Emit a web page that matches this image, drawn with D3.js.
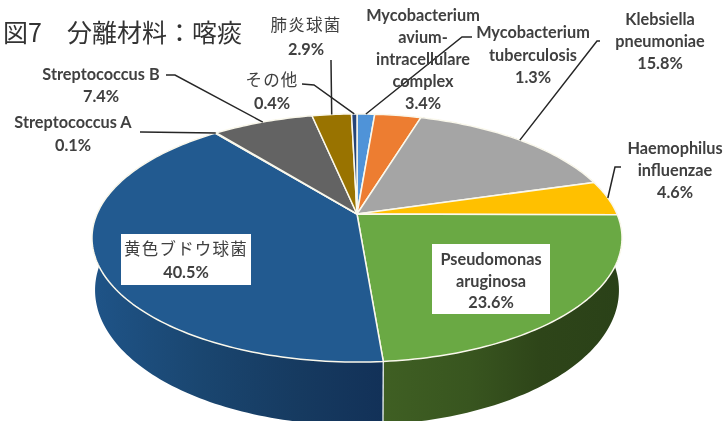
<!DOCTYPE html>
<html>
<head>
<meta charset="utf-8">
<script src="https://cdn.jsdelivr.net/npm/d3@7"></script>
<style>
html, body { margin: 0; padding: 0; background: #fff; }
svg { display: block; filter: blur(0.4px); }
text { font-family: Lato, "Noto Sans CJK JP", sans-serif; font-weight: 700; font-size: 16.3px; fill: #404040; text-anchor: middle; }
.jp { font-family: "Noto Sans CJK JP", sans-serif; font-weight: 400; font-size: 16.5px; letter-spacing: 1.2px; }
</style>
</head>
<body>
<svg id="chart" width="725" height="421"></svg>
<script>
const TITLE = '図7　分離材料：喀痰';

// clockwise from 12 o'clock
const names = [
  ['Mycobacterium', 'tuberculosis'],
  ['Mycobacterium', 'avium-', 'intracellulare', 'complex'],
  ['Klebsiella', 'pneumoniae'],
  ['Haemophilus', 'influenzae'],
  ['Pseudomonas', 'aruginosa'],
  ['黄色ブドウ球菌'],
  ['Streptococcus A'],
  ['Streptococcus B'],
  ['肺炎球菌'],
  ['その他'],
];
const values = [1.3, 3.4, 15.8, 4.6, 23.6, 40.5, 0.1, 7.4, 2.9, 0.4];
const colors = ['#4f93d8', '#ed7d31', '#a5a5a5', '#ffc000', '#6aa944', '#225a90', '#225a90', '#636363', '#997300', '#264478'];

// label placement: centre x, y of first line, line height
const labelPos = [
  [533, 38, 22.5], [423, 21, 22], [660, 25, 22], [675, 154, 22], [491, 265, 21.5],
  [186, 255, 23], [73, 128, 22.5], [101, 80, 21.5], [306, 31, 24], [272, 86, 23],
];
// elbow of each leader, null = label sits in a box on the slice
const leaderFrom = [
  [[472, 37], [462, 37]], [], [[600, 41], [597, 41]], [[621, 167], [615, 167]], null,
  null, [[140, 132], [141, 132]], [[166, 75], [175, 75]], [[331, 60], [331, 61]], [[302, 84], [314, 85]],
];
const boxes = { 4: [432, 244, 118, 70], 5: [121, 234, 130, 51] };
const sideStops = {
  4: [[383, '#3f5f23'], [470, '#38551f'], [540, '#2e4519'], [622, '#2a4118']],
  5: [[90, '#1f5488'], [200, '#1a4670'], [300, '#163a60'], [383, '#123158']],
};

const svg = d3.select('#chart');

// perspective disc: x,y = apex on screen, unit circle is pushed through a projective map
const KEEP = 0.1935;
const top_ = { x: 357, y: 214, rx: 260, ry: 119.4 };
const bottom_ = { x: 357, y: 264, rx: 257, ry: 130 };

function rim(disc, a) {
  const u = Math.sin(a), v = Math.cos(a), w = 1 + KEEP * v;
  return [disc.x + disc.rx * u / w, disc.y - disc.ry * v / w];
}

function arcPoints(disc, a0, a1) {
  const n = Math.max(2, Math.ceil((a1 - a0) / 0.02));
  return d3.range(n + 1).map(i => rim(disc, a0 + (a1 - a0) * i / n));
}

const line = d3.line();
const pie = d3.pie().sort(null).value(d => d)(values);

const defs = svg.append('defs');
Object.keys(sideStops).forEach(k => {
  const stops = sideStops[k];
  const x0 = stops[0][0], x1 = stops[stops.length - 1][0];
  const g = defs.append('linearGradient').attr('id', 'side' + k)
    .attr('gradientUnits', 'userSpaceOnUse')
    .attr('x1', x0).attr('x2', x1).attr('y1', 0).attr('y2', 0);
  stops.forEach(s => {
    g.append('stop').attr('offset', (s[0] - x0) / (x1 - x0)).attr('stop-color', s[1]);
  });
});

// sides first, top face hides whatever sits behind it
const gSide = svg.append('g');
pie.forEach((d, i) => {
  if (d.startAngle > 2 * Math.PI * 0.95) return;
  const pts = arcPoints(top_, d.startAngle, d.endAngle)
    .concat(arcPoints(bottom_, d.startAngle, d.endAngle).reverse());
  gSide.append('path')
    .attr('d', line(pts) + 'Z')
    .attr('fill', sideStops[i] ? `url(#side${i})` : d3.color(colors[i]).darker(1.5));
});
// seam between the two front slices
const seam = pie[4].endAngle;
gSide.append('path')
  .attr('d', line([rim(top_, seam), rim(bottom_, seam)]))
  .attr('stroke', '#dfe6e6').attr('stroke-width', 1.4).attr('fill', 'none');

const gTop = svg.append('g');
pie.forEach((d, i) => {
  const pts = [[top_.x, top_.y]].concat(arcPoints(top_, d.startAngle, d.endAngle));
  gTop.append('path')
    .attr('d', line(pts) + 'Z')
    .attr('fill', colors[i])
    .attr('stroke', '#faf8ec').attr('stroke-width', 1.5)
    .attr('stroke-linejoin', 'round');
});

// leaders
const gLead = svg.append('g');
pie.forEach((d, i) => {
  const from = leaderFrom[i];
  if (!from || !from.length) return;
  const mid = (d.startAngle + d.endAngle) / 2;
  gLead.append('path')
    .attr('d', line(from.concat([rim(top_, mid)])))
    .attr('fill', 'none').attr('stroke', '#262626').attr('stroke-width', 1.5);
});

// labels
const gLabel = svg.append('g');
Object.keys(boxes).forEach(k => {
  const b = boxes[k];
  gLabel.append('rect').attr('x', b[0]).attr('y', b[1])
    .attr('width', b[2]).attr('height', b[3]).attr('fill', '#fff');
});
names.forEach((lines, i) => {
  const [x, y, lh] = labelPos[i];
  const all = lines.concat([values[i].toFixed(1) + '%']);
  const t = gLabel.append('text');
  all.forEach((s, j) => {
    const isJp = /[^\x00-\x7f]/.test(s);
    t.append('tspan').attr('x', x).attr('y', y + j * lh)
      .attr('class', isJp ? 'jp' : null)
      .text(s);
  });
});

svg.append('text')
  .attr('x', 3).attr('y', 42)
  .style('text-anchor', 'start')
  .style('font-family', '"Noto Sans CJK JP", sans-serif')
  .style('font-weight', 400)
  .style('font-size', '25px')
  .style('fill', '#333')
  .text(TITLE);
</script>
</body>
</html>
